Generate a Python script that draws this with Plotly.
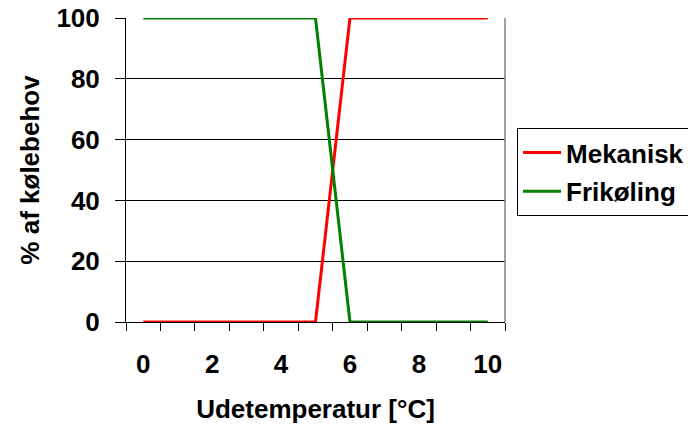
import plotly.graph_objects as go

temps = [0, 1, 2, 3, 4, 5, 6, 7, 8, 9, 10]
mekanisk = [0, 0, 0, 0, 0, 0, 100, 100, 100, 100, 100]
frikoling = [100, 100, 100, 100, 100, 100, 0, 0, 0, 0, 0]
x_ticks = [0, 2, 4, 6, 8, 10]
y_ticks = [0, 20, 40, 60, 80, 100]

FONT = "Arial, Liberation Sans, sans-serif"
FS = 26

fig = go.Figure()
fig.add_trace(go.Scatter(x=temps, y=mekanisk, mode="lines", name="Mekanisk",
                         line=dict(color="#FF0000", width=3), legendgroup="a"))
fig.add_trace(go.Scatter(x=temps, y=frikoling, mode="lines", name="Frikøling",
                         line=dict(color="#008000", width=3), legendgroup="b"))

fig.update_layout(
    width=688, height=428,
    margin=dict(l=126, r=183, t=18, b=106, autoexpand=False),
    paper_bgcolor="white", plot_bgcolor="white",
    font=dict(family=FONT, size=FS, color="black", weight="bold"),
    showlegend=True,
    legend=dict(x=1.0317, y=0.638, xanchor="left", yanchor="top",
                bordercolor="black", borderwidth=1, bgcolor="white",
                font=dict(size=FS, weight="bold"), tracegroupgap=2,
                itemwidth=38),
    xaxis=dict(range=[-0.5, 10.5], tickmode="array", tickvals=x_ticks,
               ticks="", showgrid=False, zeroline=False,
               showline=True, linecolor="black", linewidth=1,
               ticklabelstandoff=19, automargin=False,
               minor=dict(tick0=-0.5, dtick=1, ticks="outside", ticklen=8,
                          tickcolor="black", tickwidth=1, showgrid=False),
               title=dict(text="Udetemperatur [°C]", standoff=21,
                          font=dict(size=FS, weight="bold"))),
    yaxis=dict(range=[0, 100], tickmode="array", tickvals=y_ticks,
               ticks="outside", ticklen=10, tickcolor="black", tickwidth=1,
               showgrid=True, gridcolor="black", gridwidth=1,
               zeroline=False, showline=True, linecolor="black", linewidth=1,
               ticklabelstandoff=10, automargin=False,
               title=dict(text="% af kølebehov", standoff=9,
                          font=dict(size=FS, weight="bold"))),
)
fig.add_shape(type="line", xref="paper", yref="paper", x0=1, x1=1, y0=0, y1=1,
              line=dict(color="#808080", width=1.5))

fig.write_html("out.html")
